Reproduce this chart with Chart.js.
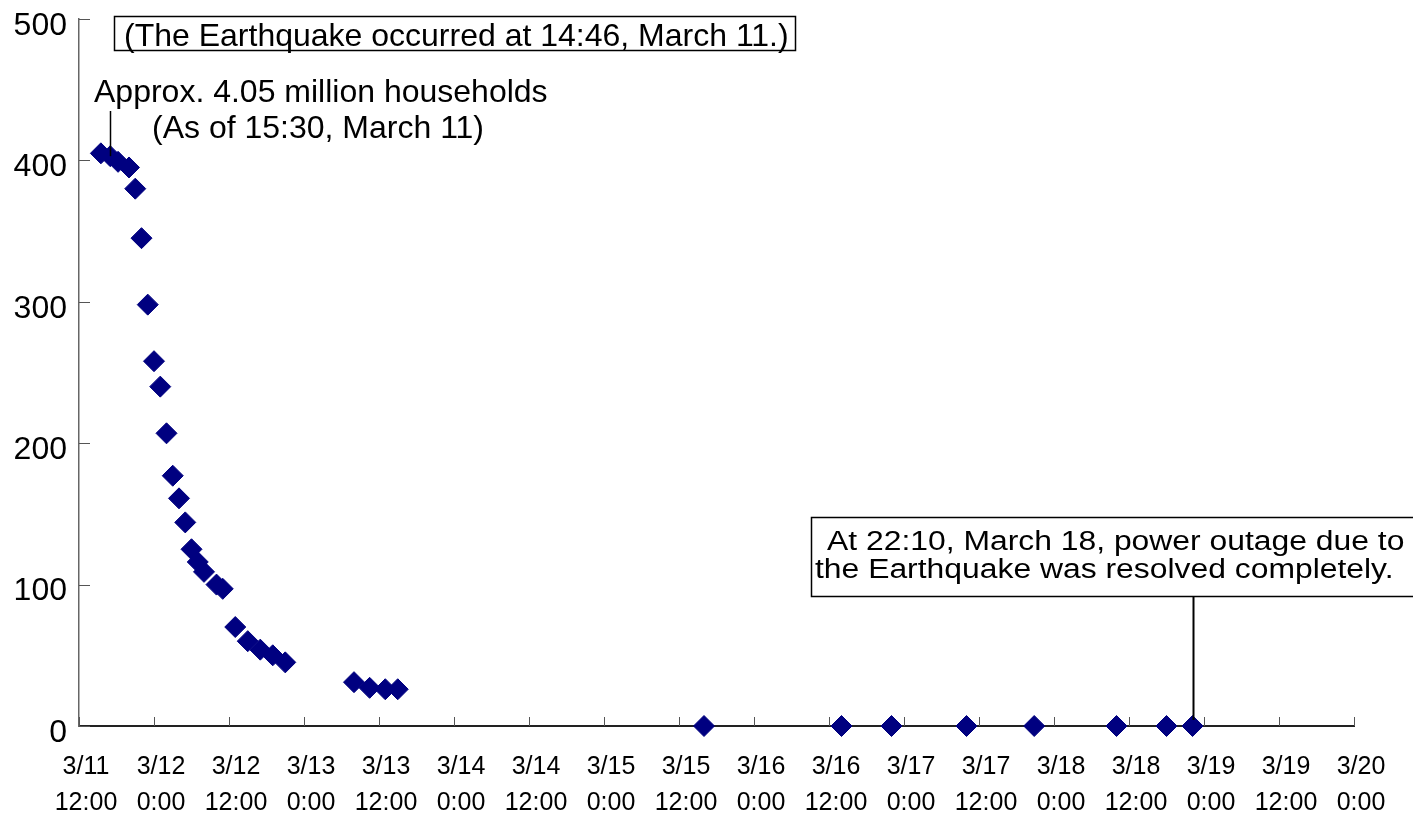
<!DOCTYPE html>
<html>
<head>
<meta charset="utf-8">
<script src="https://cdn.jsdelivr.net/npm/chart.js@4.4.1/dist/chart.umd.min.js"></script>
<style>
  html, body { margin: 0; padding: 0; background: #fff; }
  canvas { display: block; }
</style>
</head>
<body>
<canvas id="outageChart" width="1413" height="815"></canvas>
<script>
// Households without power (unit: 10,000 households), Tohoku area, March 2011
const readingTimes = [
  '3/11 15:30', '3/11 17:00', '3/11 18:15', '3/11 20:00', '3/11 21:00',
  '3/11 22:00', '3/11 23:00', '3/12 0:00', '3/12 1:00', '3/12 2:00',
  '3/12 3:00', '3/12 4:00', '3/12 5:00', '3/12 6:00', '3/12 7:00',
  '3/12 8:00', '3/12 10:00', '3/12 11:00', '3/12 13:00', '3/12 15:00',
  '3/12 17:00', '3/12 19:00', '3/12 21:00', '3/13 8:00', '3/13 10:30',
  '3/13 13:00', '3/13 15:00', '3/15 16:00', '3/16 14:00', '3/16 22:00',
  '3/17 10:00', '3/17 20:50', '3/18 10:00', '3/18 18:00', '3/18 22:10'
];
const householdsOut = [
  405, 403, 399, 395, 380,
  345, 298, 258, 240, 207,
  177, 161, 144, 125, 116,
  109, 100, 97, 70, 60,
  54, 50, 45, 31, 27,
  26, 26, 0, 0, 0,
  0, 0, 0, 0, 0
];
const xTickLabels = [
  ['3/11', '12:00'], ['3/12', '0:00'], ['3/12', '12:00'], ['3/13', '0:00'],
  ['3/13', '12:00'], ['3/14', '0:00'], ['3/14', '12:00'], ['3/15', '0:00'],
  ['3/15', '12:00'], ['3/16', '0:00'], ['3/16', '12:00'], ['3/17', '0:00'],
  ['3/17', '12:00'], ['3/18', '0:00'], ['3/18', '12:00'], ['3/19', '0:00'],
  ['3/19', '12:00'], ['3/20', '0:00']
];
const yTickValues = [0, 100, 200, 300, 400, 500];

const quakeNote = '(The Earthquake occurred at 14:46, March 11.)';
const peakNote = ['Approx. 4.05 million households', '(As of 15:30, March 11)'];
const restoredNote = ['At 22:10, March 18, power outage due to', 'the Earthquake was resolved completely.'];

// "M/D H:MM" -> hours since 3/11 0:00
function toHours(s) {
  const [date, time] = s.split(' ');
  const day = parseInt(date.split('/')[1], 10);
  const [h, m] = time.split(':').map(Number);
  return (day - 11) * 24 + h + m / 60;
}
const points = readingTimes.map((t, i) => ({ x: toHours(t), y: householdsOut[i] }));
const xStart = toHours('3/11 12:00');
const xEnd = toHours('3/20 0:00');

const FONT = '"Liberation Sans", Arial, Helvetica, sans-serif';

function drawText(ctx, text, x, y, size, sx) {
  ctx.save();
  ctx.font = size + 'px ' + FONT;
  ctx.textAlign = 'left';
  ctx.textBaseline = 'alphabetic';
  ctx.fillStyle = '#000';
  ctx.translate(x, y);
  ctx.scale(sx, 1);
  ctx.fillText(text, 0, 0);
  ctx.restore();
}

// Tick marks pointing into the plot area
const innerTicks = {
  id: 'innerTicks',
  beforeDatasetsDraw(chart) {
    const { ctx, chartArea: a, scales: { x, y } } = chart;
    ctx.save();
    ctx.strokeStyle = '#555';
    ctx.lineWidth = 1;
    ctx.beginPath();
    y.ticks.forEach(t => {
      const py = Math.round(y.getPixelForValue(t.value)) + 0.5;
      ctx.moveTo(a.left, py);
      ctx.lineTo(a.left + 11, py);
    });
    x.ticks.forEach(t => {
      const px = Math.round(x.getPixelForValue(t.value)) + 0.5;
      ctx.moveTo(px, a.bottom);
      ctx.lineTo(px, a.bottom - 9);
    });
    ctx.stroke();
    ctx.restore();
  }
};

// Text notes, boxes and leader lines
const notes = {
  id: 'notes',
  afterDraw(chart) {
    const { ctx, scales: { x, y } } = chart;
    ctx.save();
    ctx.strokeStyle = '#000';

    // earthquake note box
    ctx.lineWidth = 1.5;
    ctx.strokeRect(114.5, 16.5, 681, 34);
    drawText(ctx, quakeNote, 124, 46, 32, 1);

    // peak note and its leader
    drawText(ctx, peakNote[0], 94, 102, 32, 1);
    drawText(ctx, peakNote[1], 152, 138, 32, 1);
    const peak = points[1];
    const px = Math.round(x.getPixelForValue(peak.x)) + 0.5;
    ctx.lineWidth = 1.5;
    ctx.beginPath();
    ctx.moveTo(px, 111);
    ctx.lineTo(px, y.getPixelForValue(peak.y));
    ctx.stroke();

    // restoration note box (runs past the right edge)
    ctx.lineWidth = 1.5;
    ctx.beginPath();
    ctx.moveTo(1420, 517.5);
    ctx.lineTo(811.5, 517.5);
    ctx.lineTo(811.5, 596.5);
    ctx.lineTo(1420, 596.5);
    ctx.stroke();
    drawText(ctx, restoredNote[0], 827, 550, 27, 1.18);
    drawText(ctx, restoredNote[1], 815, 578, 27, 1.18);
    const last = points[points.length - 1];
    const lx = Math.round(x.getPixelForValue(last.x)) + 0.5;
    ctx.lineWidth = 2;
    ctx.beginPath();
    ctx.moveTo(lx, 597);
    ctx.lineTo(lx, y.getPixelForValue(last.y) - 6);
    ctx.stroke();

    ctx.restore();
  }
};

new Chart(document.getElementById('outageChart'), {
  type: 'scatter',
  data: {
    datasets: [{
      data: points,
      pointStyle: 'rectRot',
      pointRadius: 10.5,
      pointHoverRadius: 10.5,
      backgroundColor: '#000080',
      borderColor: '#000080',
      borderWidth: 1,
      clip: false
    }]
  },
  options: {
    responsive: false,
    animation: false,
    devicePixelRatio: 1,
    events: [],
    layout: { padding: { top: 19, right: 59, left: 0, bottom: 0 } },
    plugins: { legend: { display: false }, tooltip: { enabled: false } },
    scales: {
      x: {
        type: 'linear',
        min: xStart,
        max: xEnd,
        afterFit(s) {
          s.height = 89;
          s.paddingLeft = 0; s.paddingRight = 0;
        },
        grid: { display: false, drawTicks: false },
        border: { display: true, color: '#222', width: 2 },
        ticks: {
          stepSize: 12,
          autoSkip: false,
          maxRotation: 0,
          minRotation: 0,
          padding: 23,
          labelOffset: 7,
          color: '#000',
          font: { family: FONT, size: 25, lineHeight: 1.44 },
          callback: v => xTickLabels[Math.round((v - xStart) / 12)]
        }
      },
      y: {
        min: 0,
        max: 500,
        afterFit(s) {
          s.width = 79;
          s.paddingTop = 0; s.paddingBottom = 0;
        },
        afterBuildTicks(s) { s.ticks = yTickValues.map(v => ({ value: v })); },
        grid: { display: false, drawTicks: false },
        border: { display: true, color: '#666', width: 1.5 },
        ticks: {
          padding: 12,
          labelOffset: 7,
          color: '#000',
          font: { family: FONT, size: 32 },
          callback: v => String(v)
        }
      }
    }
  },
  plugins: [innerTicks, notes]
});
</script>
</body>
</html>
